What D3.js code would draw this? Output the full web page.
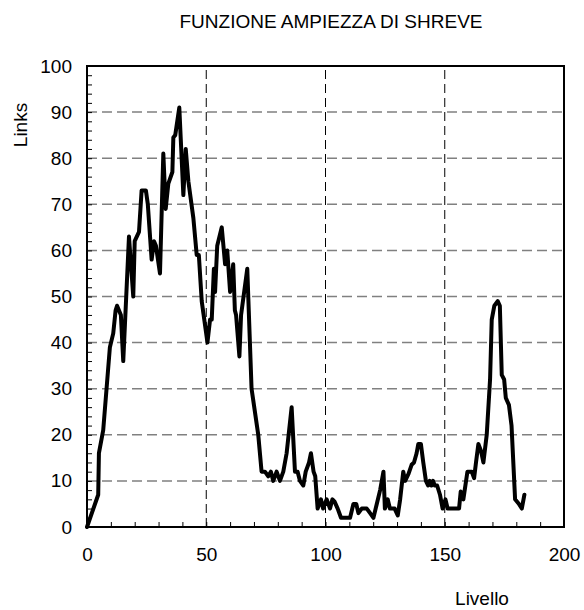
<!DOCTYPE html>
<html>
<head>
<meta charset="utf-8">
<script src="https://cdn.jsdelivr.net/npm/d3@7/dist/d3.min.js"></script>
<style>
  html, body { margin: 0; padding: 0; background: #fff; }
  svg { display: block; font-family: "Liberation Sans", Arial, sans-serif; }
</style>
</head>
<body>
<svg id="chart" width="584" height="610"></svg>
<script>
// Shreve width function: number of links at each topological level
const levels = [0, 4.7, 5, 6.8, 8.2, 9.6, 11, 12, 12.6, 14.2, 15.2, 17.6, 19.4, 20, 21.8, 22.9, 24.7, 25.5,
  27.1, 28.1, 28.9, 30.6, 32, 33, 34.1, 35.8, 36.2, 37, 38.7, 40.4, 41.4, 42.5, 44.6, 46, 46.9, 48.1,
  50.5, 51.6, 52.3, 53.2, 53.7, 54.6, 56.5, 57.9, 58.8, 60, 61.3, 62, 62.5, 63.9, 64.6, 67.2, 69, 71.8,
  73.2, 74.6, 76, 77.1, 78.1, 79.5, 80.9, 82.3, 83.7, 85.8, 87.2, 88.3, 89.3, 90.7, 91.7, 93.1, 93.9,
  95, 95.7, 96.7, 98.1, 99, 100.5, 101.9, 102.9, 103.8, 105.1, 106.5, 110.3, 111.7, 112.9, 113.8, 115.2,
  117.3, 118.7, 120.1, 121.5, 122.9, 124.3, 124.9, 126.1, 127, 129, 130.3, 131.3, 132.6, 133.4, 134.8,
  136.1, 137.1, 138.2, 138.9, 140, 141, 142.1, 143, 143.7, 144.4, 145.1, 145.8, 146.8, 148, 149.1,
  150.3, 151.2, 156, 156.7, 157.8, 159.5, 161.3, 162.3, 163.1, 164.1, 165.2, 166.2, 167.6, 169, 169.7,
  170.8, 172.2, 173.1, 173.9, 174.9, 175.6, 176.9, 178, 179.5, 181.1, 182.3, 183.4];
const links = [0, 7, 16, 21, 30, 39, 42, 47, 48, 46, 36, 63, 50, 62, 64, 73, 73, 70,
  58, 62, 61, 55, 81, 69, 74.5, 77, 84.5, 85, 91, 72, 82, 75, 67, 59, 59, 49,
  40, 45, 45, 56, 51, 61, 65, 57, 60, 51, 57, 47, 46, 37, 46, 56, 30, 20,
  12, 12, 11, 12, 10, 12, 10, 12, 16, 26, 12, 12, 10, 9, 12, 14, 16,
  12, 11, 4, 6, 4, 6, 4, 6, 5.5, 4, 2, 2, 5, 5, 3, 4,
  4, 3, 2, 5, 8, 12, 4, 6, 4, 4, 2.5, 6, 12, 10, 11.5,
  13.5, 14, 16, 18, 18, 14, 10, 9, 10, 9, 10, 9, 9, 7, 4,
  6, 4, 4, 7.7, 6, 12, 12, 10.6, 14, 18, 16.5, 14, 20, 32, 45,
  48, 49, 48, 33, 32, 28, 26.5, 22, 6, 5, 4, 7];

const xTickLabels = [0, 50, 100, 150, 200];
const yTickLabels = [0, 10, 20, 30, 40, 50, 60, 70, 80, 90, 100];
const xMinorTicks = d3.range(0, 201, 10);
const yMinorTicks = d3.range(0, 101, 2);
const xGrid = [50, 100, 150];
const yGrid = [10, 20, 30, 40, 50, 60, 70, 80, 90];

const svg = d3.select("#chart");
const L = 87, R = 564, T = 66, B = 527;
const x = d3.scaleLinear().domain([0, 200]).range([L, R]);
const y = d3.scaleLinear().domain([0, 100]).range([B, T]);

// Grid lines
svg.append("g").selectAll("line").data(yGrid).join("line")
  .attr("x1", L).attr("x2", R)
  .attr("y1", d => y(d)).attr("y2", d => y(d))
  .attr("stroke", "#808080").attr("stroke-width", 1.5)
  .attr("stroke-dasharray", "10,5");
svg.append("g").selectAll("line").data(xGrid).join("line")
  .attr("x1", d => x(d)).attr("x2", d => x(d))
  .attr("y1", B).attr("y2", T)
  .attr("stroke", "#000").attr("stroke-width", 1)
  .attr("stroke-dasharray", "9,5");

// Inner tick marks
const xTicks = svg.append("g").attr("transform", `translate(0,${B})`)
  .call(d3.axisBottom(x).tickValues(xMinorTicks).tickSize(-5).tickFormat(""));
xTicks.select(".domain").remove();
xTicks.selectAll("line").attr("stroke", "#000").attr("stroke-width", 1);

const yTicks = svg.append("g").attr("transform", `translate(${L},0)`)
  .call(d3.axisLeft(y).tickValues(yMinorTicks).tickSize(-5).tickFormat(""));
yTicks.select(".domain").remove();
yTicks.selectAll("line").attr("stroke", "#000").attr("stroke-width", 1);

// Tick labels
const xLab = svg.append("g").attr("transform", `translate(0,${B})`)
  .call(d3.axisBottom(x).tickValues(xTickLabels).tickSize(0).tickPadding(21).tickFormat(d3.format("d")));
xLab.select(".domain").remove();
xLab.selectAll("text").attr("font-size", 19).attr("font-family", "Liberation Sans, Arial, sans-serif").attr("fill", "#000");

const yLab = svg.append("g").attr("transform", `translate(${L},0)`)
  .call(d3.axisLeft(y).tickValues(yTickLabels).tickSize(0).tickPadding(15).tickFormat(d3.format("d")));
yLab.select(".domain").remove();
yLab.selectAll("text").attr("font-size", 19).attr("font-family", "Liberation Sans, Arial, sans-serif").attr("fill", "#000");

// Data line
const line = d3.line().x((d, i) => x(levels[i])).y(d => y(d));
svg.append("path").datum(links)
  .attr("d", line)
  .attr("fill", "none").attr("stroke", "#000")
  .attr("stroke-width", 4).attr("stroke-linejoin", "round").attr("stroke-linecap", "round");

// Plot frame
svg.append("rect").attr("x", L).attr("y", T).attr("width", R - L).attr("height", B - T)
  .attr("fill", "none").attr("stroke", "#000").attr("stroke-width", 2);

// Titles
svg.append("text").attr("x", 331).attr("y", 28).attr("text-anchor", "middle")
  .attr("font-size", 19).text("FUNZIONE AMPIEZZA DI SHREVE");
svg.append("text").attr("x", 482).attr("y", 605).attr("text-anchor", "middle")
  .attr("font-size", 19).text("Livello");
svg.append("text").attr("transform", "translate(27,125) rotate(-90)").attr("text-anchor", "middle")
  .attr("font-size", 19).text("Links");
</script>
</body>
</html>
